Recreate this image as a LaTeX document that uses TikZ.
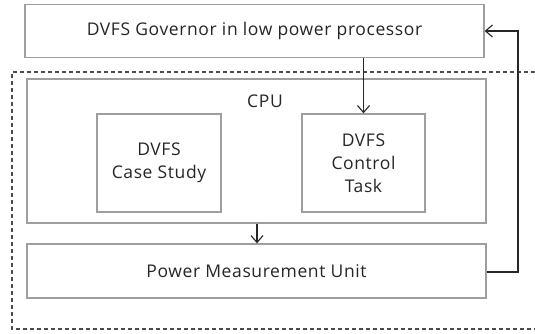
\documentclass[tikz,border=0pt]{standalone}
\usepackage{fontspec}
\setmainfont[LetterSpace=3.5]{Open Sans}
\usetikzlibrary{arrows.meta}
\begin{document}
\begin{tikzpicture}[x=1pt,y=-1pt,
  box/.style={draw=black!38,line width=1.3pt,fill=white,inner sep=0pt,align=center,text=black!85,font=\fontsize{17.5}{23}\selectfont},
  arr/.style={draw=black!85,line width=1.1pt,-{Straight Barb[length=7pt,width=12pt,line width=1.1pt]}},
  lbl/.style={font=\fontsize{17.5}{23}\selectfont,text=black!85,inner sep=0pt}]
\useasboundingbox (0,0) rectangle (535,334);
\draw[black!70,line width=1.4pt,dash pattern=on 4pt off 3pt] (535,72) -- (12,72) -- (12,329) -- (535,329);
\node[box,minimum width=459pt,minimum height=53pt] (gov) at (254.5,31) {DVFS Governor in low power processor};
\node[box,minimum width=459pt,minimum height=144pt] (cpu) at (256.5,151) {};
\node[lbl] (cpulbl) at (265,101) {CPU};
\node[box,minimum width=124pt,minimum height=98pt] (case) at (159,163) {DVFS\\Case Study};
\node[box,minimum width=123pt,minimum height=98pt] (ctrl) at (363.5,163) {DVFS\\Control\\Task};
\node[box,minimum width=459pt,minimum height=54pt] (pmu) at (256.5,271) {Power Measurement Unit};
\coordinate (fb) at (518,272);
\draw[arr] (gov.south -| ctrl.north) -- (ctrl.north);
\draw[arr] (cpu.south -| 257,0) -- (pmu.north -| 257,0);
\draw[arr,line width=1.4pt] (pmu.east |- fb) -- (fb) -- (fb |- gov.east) -- (gov.east);
\end{tikzpicture}
\end{document}
